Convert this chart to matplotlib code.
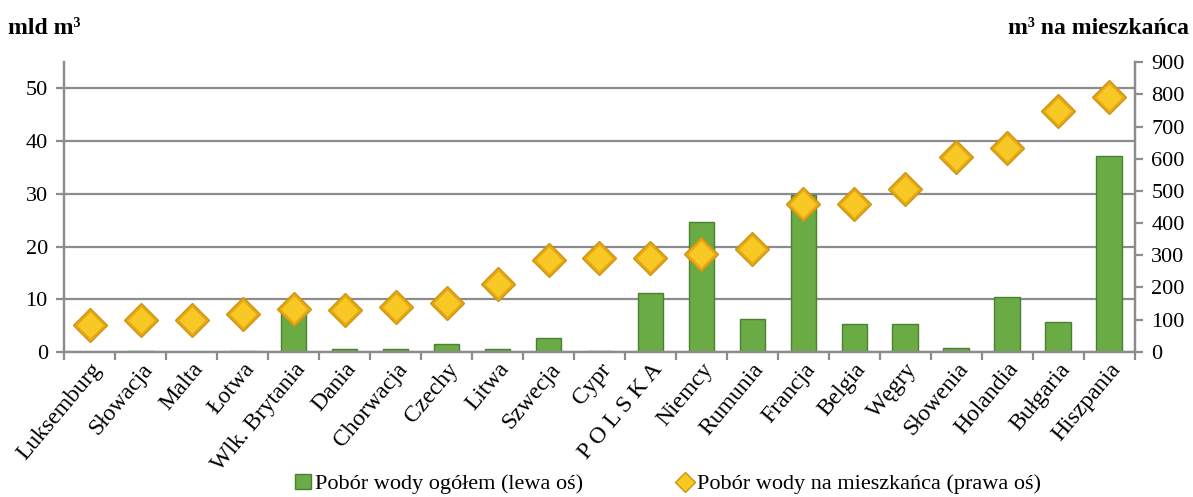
import matplotlib.pyplot as plt
from matplotlib.lines import Line2D
from matplotlib.patches import Patch
import numpy as np

plt.rcParams['font.family'] = ['Liberation Serif', 'DejaVu Serif']

kraje = ['Luksemburg', 'Słowacja', 'Malta', 'Łotwa', 'Wlk. Brytania', 'Dania',
         'Chorwacja', 'Czechy', 'Litwa', 'Szwecja', 'Cypr', 'P O L S K A',
         'Niemcy', 'Rumunia', 'Francja', 'Belgia', 'Węgry', 'Słowenia',
         'Holandia', 'Bułgaria', 'Hiszpania']
# mld m3 (lewa oś)
pobor_ogolem = [0.05, 0.2, 0.05, 0.1, 8.0, 0.5, 0.6, 1.5, 0.5, 2.6, 0.1, 11.1,
                24.7, 6.3, 29.8, 5.2, 5.2, 0.8, 10.4, 5.6, 37.1]
# m3 na mieszkanca (prawa oś)
pobor_na_osobe = [83, 100, 100, 119, 132, 130, 140, 153, 212, 285, 292, 292,
                  303, 318, 458, 458, 507, 606, 634, 747, 792]

green = '#6aab45'
green_edge = '#4a8030'
gold = '#eaa914'
gold_light = '#f8c824'
gold_edge = '#c99612'
grey = '#8c8c8c'

fig = plt.figure(figsize=(11.93, 4.97), dpi=100)
ax = fig.add_axes([0.054, 0.292, 0.897, 0.583])
x = np.arange(len(kraje))

ax.bar(x, pobor_ogolem, width=0.5, color=green, edgecolor=green_edge, linewidth=1.0, zorder=2)
ax.set_ylim(0, 55)
ax.set_xlim(-0.5, len(kraje) - 0.5)
ax.set_yticks(range(0, 51, 10))
ax.yaxis.grid(True, color=grey, lw=1.6)
ax.set_axisbelow(True)

ax2 = ax.twinx()
ax2.plot(x, pobor_na_osobe, ls='none', marker='D', ms=17, mfc=gold, mec=gold_edge,
         mew=1.0, zorder=3)
ax2.plot(x, pobor_na_osobe, ls='none', marker='D', ms=13, mfc=gold_light, mec='none',
         zorder=4)
ax2.set_ylim(0, 900)
ax2.set_yticks(range(0, 901, 100))

for a in (ax, ax2):
    a.spines['top'].set_visible(False)
    for s in ('left', 'right', 'bottom'):
        a.spines[s].set_color(grey)
        a.spines[s].set_linewidth(1.6)
    a.tick_params(axis='y', length=6, width=1.6, color=grey, labelsize=16, pad=6)

ax.set_xticks(np.arange(-0.5, len(kraje), 1), minor=False)
ax.set_xticklabels([])
ax.tick_params(axis='x', length=6, width=1.6, color=grey)
ax.set_xticks(x, minor=True)
ax.set_xticklabels(kraje, minor=True, rotation=50, ha='right', rotation_mode='anchor',
                   fontsize=17)
ax.tick_params(axis='x', which='minor', length=0, pad=5)

fig.text(0.007, 0.943, 'mld m³', fontsize=17, fontweight='bold', ha='left', va='center')
fig.text(0.997, 0.943, 'm³ na mieszkańca', fontsize=17, fontweight='bold', ha='right',
         va='center')

handles = [Patch(facecolor=green, edgecolor=green_edge),
           Line2D([], [], ls='none', marker='D', ms=10, mfc=gold_light, mec=gold_edge)]
fig.legend(handles, ['Pobór wody ogółem (lewa oś)', 'Pobór wody na mieszkańca (prawa oś)'],
           loc='lower center', bbox_to_anchor=(0.56, -0.035), ncol=2, frameon=False,
           fontsize=16, handlelength=0.7, handletextpad=0.2, columnspacing=4.2)

fig.savefig('out.png', dpi=100)
